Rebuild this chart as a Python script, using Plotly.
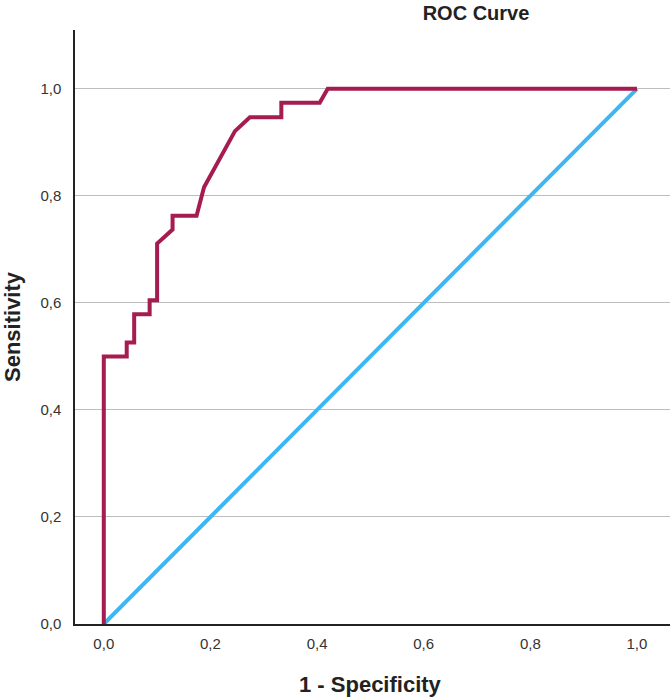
import plotly.graph_objects as go

# ROC curve points (1 - specificity, sensitivity)
roc_fpr = [0.0, 0.0, 0.043, 0.043, 0.057, 0.057, 0.086, 0.086, 0.100, 0.100, 0.129, 0.129,
           0.174, 0.188, 0.246, 0.274, 0.333, 0.333, 0.405, 0.420, 1.0]
roc_tpr = [0.0, 0.500, 0.500, 0.526, 0.526, 0.579, 0.579, 0.605, 0.605, 0.711, 0.737, 0.763,
           0.763, 0.816, 0.921, 0.947, 0.947, 0.974, 0.974, 1.0, 1.0]
ref_x = [0.0, 1.0]
ref_y = [0.0, 1.0]

tick_vals = [0.0, 0.2, 0.4, 0.6, 0.8, 1.0]
tick_text = ["0,0", "0,2", "0,4", "0,6", "0,8", "1,0"]

fig = go.Figure()
fig.add_trace(go.Scatter(x=ref_x, y=ref_y, mode="lines",
                         line=dict(color="#3CB6F5", width=4), showlegend=False))
fig.add_trace(go.Scatter(x=roc_fpr, y=roc_tpr, mode="lines",
                         line=dict(color="#A51C50", width=4), showlegend=False))

fig.update_layout(
    width=670, height=698,
    margin=dict(l=75, r=0, t=30, b=74),
    paper_bgcolor="white", plot_bgcolor="white",
    font=dict(family="Liberation Sans, Arial, sans-serif", color="#333333"),
    title=dict(text="<b>ROC Curve</b>", xref="container", yref="container",
               x=476/670, y=1 - 13/698, xanchor="center", yanchor="middle",
               font=dict(size=20, color="#222222")),
)
fig.update_xaxes(range=[-0.054, 1.062], tickvals=tick_vals, ticktext=tick_text,
                 showgrid=False, zeroline=False, showline=True, linecolor="#222222",
                 linewidth=1.5, ticks="", tickfont=dict(size=15, color="#333333"),
                 ticklabelstandoff=5)
fig.update_yaxes(range=[0, 1.110], tickvals=tick_vals, ticktext=tick_text,
                 showgrid=True, gridcolor="#BDBDBD", gridwidth=1, zeroline=False,
                 showline=True, linecolor="#222222", linewidth=1.5, ticks="",
                 tickfont=dict(size=15, color="#333333"), ticklabelstandoff=9)

fig.add_annotation(text="<b>1 - Specificity</b>", xref="paper", yref="paper",
                   x=(370 - 75) / 595, y=-(684 - 624) / 594, showarrow=False,
                   xanchor="center", yanchor="middle",
                   font=dict(size=22, color="#222222"))
fig.add_annotation(text="<b>Sensitivity</b>", xref="paper", yref="paper",
                   x=-(75 - 12) / 595, y=(624 - 327) / 594, showarrow=False,
                   xanchor="center", yanchor="middle", textangle=-90,
                   font=dict(size=22, color="#222222"))

fig.write_html("out.html")
